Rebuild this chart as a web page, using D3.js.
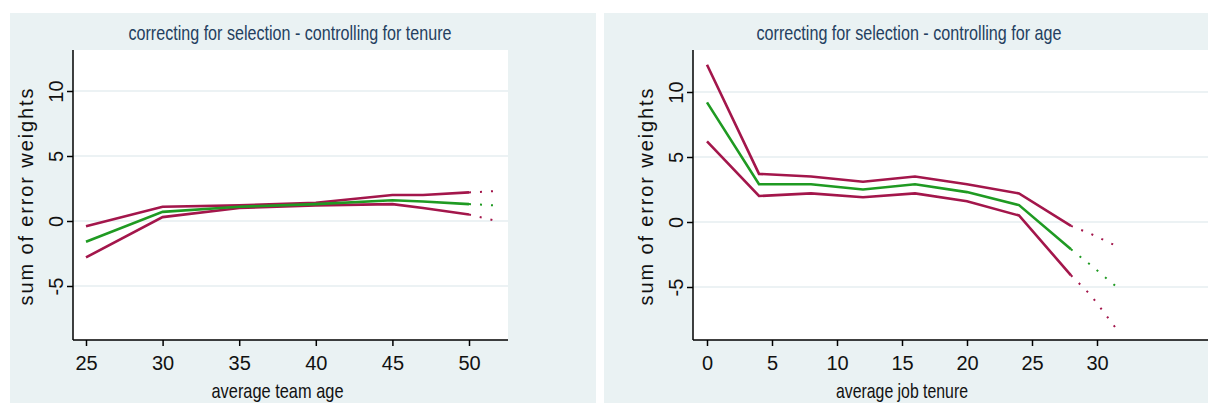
<!DOCTYPE html>
<html><head><meta charset="utf-8">
<script src="https://cdn.jsdelivr.net/npm/d3@7"></script>
<style>body{margin:0;background:#fff}svg{display:block}
.nar{font-family:"Liberation Sans Narrow","Arial Narrow","Liberation Sans",sans-serif}</style>
</head><body><svg width="1208" height="403"></svg>
<script>
// left panel: average team age
var ageX = [25, 30, 35, 40, 45, 47, 50, 51.8]
var ageUpper = [-0.4, 1.1, 1.2, 1.4, 2.0, 2.0, 2.2, 2.3]
var ageMid = [-1.6, 0.7, 1.1, 1.3, 1.6, 1.5, 1.3, 1.2]
var ageLower = [-2.8, 0.3, 1.0, 1.2, 1.3, 1.0, 0.5, 0.0]

// right panel: average job tenure
var tenX = [0, 4, 8, 12, 16, 20, 24, 28, 29.5, 31.4]
var tenUpper = [12.1, 3.7, 3.5, 3.1, 3.5, 2.9, 2.2, -0.3, -0.9, -1.8]
var tenMid = [9.2, 2.9, 2.9, 2.5, 2.9, 2.3, 1.3, -2.1, -3.3, -4.9]
var tenLower = [6.2, 2.0, 2.2, 1.9, 2.2, 1.6, 0.5, -4.1, -5.6, -8.1]

var yTicks = [-5, 0, 5, 10]
var red = "#a3164b", green = "#1f9a22"
var svg = d3.select("svg")

function panel(o) {
  var g = svg.append("g")
  g.append("rect").attr("x", o.bx).attr("y", 13).attr("width", o.bw).attr("height", 390).attr("fill", "#eaf2f3")
  g.append("rect").attr("x", o.l).attr("y", 50).attr("width", o.r - o.l).attr("height", 290).attr("fill", "#fff")
  var x = d3.scaleLinear().domain(o.xd).range(o.xr)
  var y = d3.scaleLinear().domain([0, 10]).range([o.y0, o.y0 - 130])
  yTicks.forEach(function (t) {
    g.append("line").attr("x1", o.l).attr("x2", o.r).attr("y1", y(t)).attr("y2", y(t)).attr("stroke", "#e6eef0").attr("stroke-width", 1.5)
  })
  var ya = g.append("g").attr("transform", "translate(" + o.l + ",0)")
    .call(d3.axisLeft(y).tickValues(yTicks).tickFormat(String).tickSize(6).tickPadding(4))
  ya.select(".domain").attr("d", "M0,50V340")
  ya.selectAll("text").attr("class", "nar").attr("font-size", 20).attr("fill", "#111")
    .attr("transform", "rotate(-90,-17,0)")
    .attr("x", -17).attr("y", 0).attr("dy", "0.35em").attr("text-anchor", "middle")
  var xa = g.append("g").attr("transform", "translate(0,340)")
    .call(d3.axisBottom(x).tickValues(o.xt).tickFormat(String).tickSize(6).tickPadding(10))
  xa.select(".domain").attr("d", "M" + o.l + ",0H" + o.r)
  xa.selectAll("text").attr("class", "nar").attr("font-size", 20).attr("fill", "#111")
  g.selectAll(".domain,.tick line").attr("stroke", "#000").attr("stroke-width", 1.5)
  g.append("text").attr("class", "nar").attr("x", o.tc).attr("y", 40).attr("text-anchor", "middle")
    .attr("font-size", 21).attr("fill", "#24405f").attr("textLength", o.tw).attr("lengthAdjust", "spacingAndGlyphs").text(o.title)
  g.append("text").attr("class", "nar").attr("x", (o.xr[0] + o.xr[1]) / 2).attr("y", 398).attr("text-anchor", "middle")
    .attr("font-size", 21).attr("fill", "#111").attr("textLength", 132).attr("lengthAdjust", "spacingAndGlyphs").text(o.xlab)
  g.append("text").attr("transform", "translate(" + (o.l - 40) + ",197) rotate(-90)").attr("text-anchor", "middle")
    .attr("font-family", "Liberation Sans,Arial,sans-serif").attr("font-size", 20)
    .attr("textLength", 217).attr("lengthAdjust", "spacing")
    .attr("fill", "#111").text("sum of error weights")
  var line = d3.line().x(function (d) { return x(d[0]) }).y(function (d) { return y(d[1]) })
  ;[[o.lo, red], [o.hi, red], [o.mid, green]].forEach(function (s) {
    var pts = o.xs.map(function (v, i) { return [v, s[0][i]] })
    var solid = pts.slice(0, o.cut + 1), tail = pts.slice(o.cut)
    g.append("path").attr("d", line(solid)).attr("fill", "none").attr("stroke", s[1]).attr("stroke-width", 2.6)
    g.append("path").attr("d", line(tail)).attr("fill", "none").attr("stroke", s[1]).attr("stroke-width", 2)
      .attr("stroke-dasharray", "2,9")
  })
}

panel({bx: 10, bw: 586, l: 73, r: 508, xd: [25, 50], xr: [86, 469], y0: 221, xt: [25, 30, 35, 40, 45, 50],
  title: "correcting for selection - controlling for tenure", tc: 290, tw: 323, xlab: "average team age",
  xs: ageX, hi: ageUpper, mid: ageMid, lo: ageLower, cut: 6})
panel({bx: 604, bw: 604, l: 693, r: 1208, xd: [0, 30], xr: [707, 1097], y0: 222, xt: [0, 5, 10, 15, 20, 25, 30],
  title: "correcting for selection - controlling for age", tc: 909, tw: 305, xlab: "average job tenure",
  xs: tenX, hi: tenUpper, mid: tenMid, lo: tenLower, cut: 7})
</script></body></html>
